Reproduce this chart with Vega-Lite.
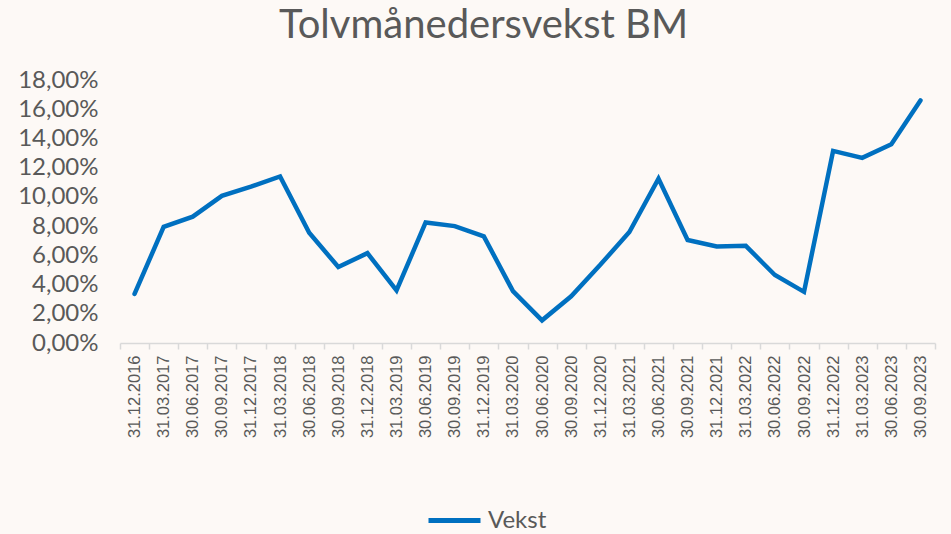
{
  "$schema": "https://vega.github.io/schema/vega-lite/v6.json",
  "autosize": {"type": "none"},
  "width": 815,
  "height": 263,
  "padding": {"left": 120, "top": 80, "right": 16, "bottom": 191},
  "background": "#fdf9f6",
  "title": {
    "text": "Tolvmånedersvekst BM",
    "font": "Lato",
    "fontSize": 40,
    "fontWeight": "normal",
    "color": "#595959",
    "anchor": "middle",
    "baseline": "alphabetic",
    "offset": -10,
    "dx": -44
  },
  "data": {
    "values": [
      {"dato": "31.12.2016", "serie": "Vekst", "verdi": 0.0336},
      {"dato": "31.03.2017", "serie": "Vekst", "verdi": 0.0795},
      {"dato": "30.06.2017", "serie": "Vekst", "verdi": 0.0865},
      {"dato": "30.09.2017", "serie": "Vekst", "verdi": 0.1007},
      {"dato": "31.12.2017", "serie": "Vekst", "verdi": 0.107},
      {"dato": "31.03.2018", "serie": "Vekst", "verdi": 0.114},
      {"dato": "30.06.2018", "serie": "Vekst", "verdi": 0.0755},
      {"dato": "30.09.2018", "serie": "Vekst", "verdi": 0.052},
      {"dato": "31.12.2018", "serie": "Vekst", "verdi": 0.0615},
      {"dato": "31.03.2019", "serie": "Vekst", "verdi": 0.036},
      {"dato": "30.06.2019", "serie": "Vekst", "verdi": 0.0825},
      {"dato": "30.09.2019", "serie": "Vekst", "verdi": 0.08},
      {"dato": "31.12.2019", "serie": "Vekst", "verdi": 0.073},
      {"dato": "31.03.2020", "serie": "Vekst", "verdi": 0.0355},
      {"dato": "30.06.2020", "serie": "Vekst", "verdi": 0.0155},
      {"dato": "30.09.2020", "serie": "Vekst", "verdi": 0.032},
      {"dato": "31.12.2020", "serie": "Vekst", "verdi": 0.0535},
      {"dato": "31.03.2021", "serie": "Vekst", "verdi": 0.076},
      {"dato": "30.06.2021", "serie": "Vekst", "verdi": 0.1125},
      {"dato": "30.09.2021", "serie": "Vekst", "verdi": 0.0705},
      {"dato": "31.12.2021", "serie": "Vekst", "verdi": 0.066},
      {"dato": "31.03.2022", "serie": "Vekst", "verdi": 0.0665},
      {"dato": "30.06.2022", "serie": "Vekst", "verdi": 0.0465},
      {"dato": "30.09.2022", "serie": "Vekst", "verdi": 0.035},
      {"dato": "31.12.2022", "serie": "Vekst", "verdi": 0.1315},
      {"dato": "31.03.2023", "serie": "Vekst", "verdi": 0.1267},
      {"dato": "30.06.2023", "serie": "Vekst", "verdi": 0.136},
      {"dato": "30.09.2023", "serie": "Vekst", "verdi": 0.166}
    ]
  },
  "mark": {"type": "line", "strokeWidth": 4.5, "strokeCap": "round", "strokeJoin": "miter"},
  "encoding": {
    "x": {
      "field": "dato",
      "type": "ordinal",
      "sort": null,
      "scale": {"paddingInner": 0, "paddingOuter": 0},
      "axis": {
        "title": null,
        "labelAngle": -90,
        "labelFont": "Liberation Sans",
        "labelFontSize": 16.5,
        "labelColor": "#595959",
        "labelPadding": 6,
        "domainColor": "#d9d9d9",
        "domainWidth": 1.5,
        "tickColor": "#d9d9d9",
        "tickWidth": 1.5,
        "tickSize": 6,
        "tickBand": "extent",
        "grid": false
      }
    },
    "y": {
      "field": "verdi",
      "type": "quantitative",
      "scale": {"domain": [0, 0.18], "nice": false},
      "axis": {
        "title": null,
        "values": [0, 0.02, 0.04, 0.06, 0.08, 0.1, 0.12, 0.14, 0.16, 0.18],
        "labelExpr": "replace(format(datum.value, '.2%'), '.', ',')",
        "labelFont": "Lato",
        "labelFontSize": 24,
        "labelColor": "#595959",
        "labelPadding": 22,
        "domain": false,
        "ticks": false,
        "grid": false
      }
    },
    "color": {
      "field": "serie",
      "type": "nominal",
      "scale": {"range": ["#0070c0"]},
      "legend": {
        "title": null,
        "orient": "none",
        "legendX": 306,
        "legendY": 412,
        "symbolType": "stroke",
        "symbolSize": 2704,
        "symbolStrokeWidth": 5,
        "labelFont": "Lato",
        "labelFontSize": 24,
        "labelColor": "#595959",
        "labelOffset": 5
      }
    }
  },
  "config": {"view": {"stroke": null}}
}
